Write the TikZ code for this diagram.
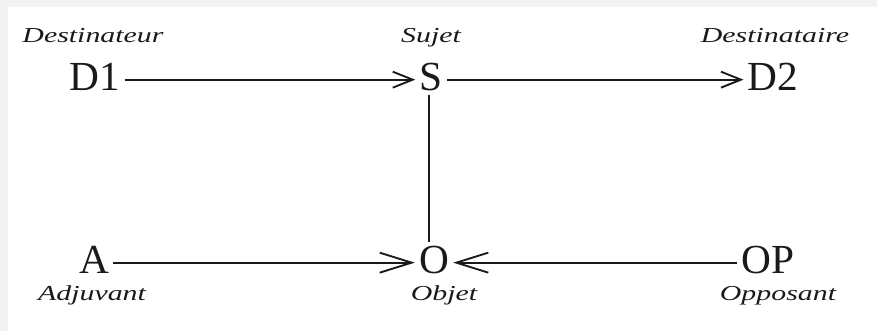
\documentclass[tikz,border=0pt]{standalone}
\usepackage{fontspec}
\setmainfont{Liberation Serif}
\newfontfamily\rolefont[FakeStretch=1.4]{Liberation Serif}
\usepackage{xcolor}
\usepackage{tikz}
\usetikzlibrary{arrows.meta,positioning}
\definecolor{framegray}{HTML}{F2F2F2}
\definecolor{inkblack}{HTML}{1A1A1A}

\begin{document}
\begin{tikzpicture}[
  x=0.75pt, y=-0.75pt,
  actant/.style={font=\fontsize{31}{31}\selectfont, text=inkblack, inner sep=3pt,
                 text height=20.5pt, text depth=0pt},
  role/.style ={font=\rolefont\itshape\fontsize{16}{16}\selectfont, text=inkblack,
                inner sep=0pt, text height=10.5pt, text depth=0pt},
  ar/.style   ={-{Straight Barb[length=15pt, width=12pt]}, line width=1.4pt, draw=inkblack},
  arb/.style  ={-{Straight Barb[length=24pt, width=15pt]}, line width=1.4pt, draw=inkblack}
]
  % frame of the page
  \useasboundingbox (0,0) rectangle (877,331);
  \fill[framegray] (0,0) rectangle (877,7);
  \fill[framegray] (0,0) rectangle (8,331);

  % actants
  \node[actant] (d1) at (95,77)  {D1};
  \node[actant] (s)  at (431,77) {S};
  \node[actant] (d2) at (773,77) {D2};
  \node[actant] (a)  at (94,260) {A};
  \node[actant] (o)  at (434,260) {O};
  \node[actant] (op) at (768,260) {OP};

  % roles
  \node[role, above=12.5pt of d1, xshift=-1.5pt] (dest)  {Destinateur};
  \node[role, above=12.5pt of s]                 (suj)   {Sujet};
  \node[role, above=12.5pt of d2, xshift=1.5pt]  (desta) {Destinataire};
  \node[role, below=6pt of a, xshift=-1.5pt]     (adj)   {Adjuvant};
  \node[role, below=6pt of o, xshift=7.5pt]      (obj)   {Objet};
  \node[role, below=6pt of op, xshift=7.5pt]     (opp)   {Opposant};

  % relations
  \draw[ar]  ([yshift=-2pt]d1.east) -- ([yshift=-2pt]s.west);
  \draw[ar]  ([yshift=-2pt]s.east) -- ([yshift=-2pt]d2.west);
  \draw[line width=1.4pt, draw=inkblack] ([xshift=-1.5pt]s.south) -- ([xshift=-1.5pt]s.south |- o.north);
  \draw[arb] ([yshift=-2pt]a.east) -- ([yshift=-2pt]o.west);
  \draw[arb] ([yshift=-2pt]op.west) -- ([yshift=-2pt]o.east);
\end{tikzpicture}
\end{document}
